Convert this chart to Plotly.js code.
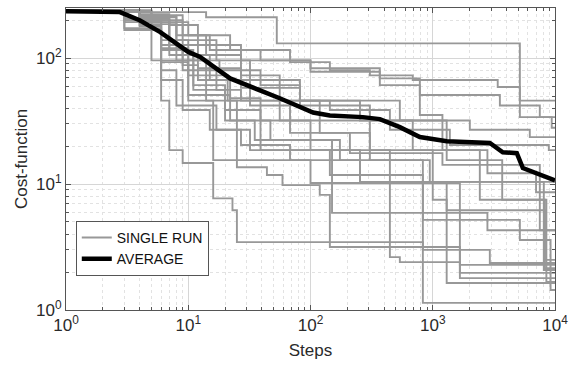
<!DOCTYPE html>
<html>
<head>
<meta charset="utf-8">
<script src="https://cdn.plot.ly/plotly-3.0.1.min.js"></script>
<style>html,body{margin:0;padding:0;background:#fff;}#chart{width:574px;height:367px;}</style>
</head>
<body>
<div id="chart"></div>
<script>
// Single runs (step positions and cost-function values)
const run01Steps = [1,5,14,53,5160,9400,10000];
const run01Cost  = [240,232,211,131,34,28,28];
const run02Steps = [1,4,6,10,22,68,144,306,686,3400,5160,10000];
const run02Cost  = [236,219,193,152,116,93,80,73,67,59,46,46];
const run03Steps = [1,4,7,12,27,100,369,784,3540,7510,10000];
const run03Cost  = [240,223,183,127,96,78,69,51,42,34,34];
const run04Steps = [1,3,6,10,18,39,82,538,2010,6220,10000];
const run04Cost  = [232,200,139,96,80,61,46,32,27,23.6,23.6];
const run05Steps = [1,3,6,9,17,27,144,446,1380,8900,10000];
const run05Cost  = [236,193,116,80,56,46,38.7,27,20.4,18.6,18.6];
const run06Steps = [1,3,6,9,12,22,39,100,254,8100,10000];
const run06Cost  = [240,207,127,88,67,48,32,18.6,10.4,2.08,2.08];
const run07Steps = [1,4,8,14,27,56,119,306,946,10000];
const run07Cost  = [232,215,152,106,73,46,25.5,15.5,10.4,10.4];
const run08Steps = [1,5,9,15,32,68,210,1200,2800,7000,10000];
const run08Cost  = [236,200,106,67,42,25.5,17.6,14.2,12.2,8.6,8.6];
const run09Steps = [1,4,6,10,22,47,174,830,2800,10000];
const run09Cost  = [240,183,96,51,32,22.4,15.5,5.2,4.3,4.3];
const run10Steps = [1,3,6,8,17,32,144,830,2930,10000];
const run10Cost  = [232,173,80,42,27,18.6,11.8,3.0,2.36,2.36];
const run11Steps = [1,4,7,11,20,39,446,538,1667,10000];
const run11Cost  = [236,207,116,56,38.7,18.6,2.63,2.4,2.28,2.28];
const run12Steps = [1,4,6,10,21,56,306,1000,1300,8260,10000];
const run12Cost  = [240,193,120,73,46,32,18.6,10.2,6.2,2.15,2.15];
const run13Steps = [1,5,8,14,25,44,59,119,144,1667,10000];
const run13Cost  = [232,186,96,46,13.6,11.8,9.8,8.2,3.16,1.97,1.97];
const run14Steps = [1,3,6,9,15,27,68,254,1667,10000];
const run14Cost  = [236,167,67,38.7,27,20.4,15.5,10.2,1.79,1.79];
const run15Steps = [1,4,7,12,27,82,306,1300,3700,8500,10000];
const run15Cost  = [240,200,127,83,58,42,32,15.5,7.5,1.67,1.67];
const run16Steps = [1,4,6,10,16,100,1000,1300,10000];
const run16Cost  = [232,180,93,46,15.5,10.2,7.5,1.64,1.64];
const run17Steps = [1,3,5,6,7,9,16,23,25,830,10000];
const run17Cost  = [232,200,96,46,18.6,14.7,7.7,6.2,3.46,1.14,1.14];
const run18Steps = [1,4,7,11,20,35,150,2800,5160,9200,10000];
const run18Cost  = [236,200,106,61,32,22.4,5.9,5.2,3.6,1.44,1.44];
const run19Steps = [1,4,8,17,32,82,254,686,2427,8260,10000];
const run19Cost  = [240,211,139,96,67,46,32,18.6,7.5,2.5,2.5];
const run20Steps = [1,5,9,15,39,100,369,784,1200,2800,7510,10000];
const run20Cost  = [236,219,152,116,96,83,61,35.3,18.6,14.2,4.3,4.3];

// Average curve
const avgSteps = [1,2.76,4,5.9,10,12.5,22,32,56,105,144,268,369,538,784,1303,2930,3740,4870,5460,7100,9600,10000];
const avgCost  = [236,232,200,161,112,102,69,60,48,37,35,34,32.8,28.3,23.6,21.9,21.2,17.9,17.6,13.4,12.2,10.8,10.7];

// Axis ticks
const xTickVals = [1,10,100,1000,10000];
const xTickText = ['10<sup>0</sup>','10<sup>1</sup>','10<sup>2</sup>','10<sup>3</sup>','10<sup>4</sup>'];
const yTickVals = [1,10,100];
const yTickText = ['10<sup>0</sup>','10<sup>1</sup>','10<sup>2</sup>'];

const runs = [
  [run01Steps,run01Cost],[run02Steps,run02Cost],[run03Steps,run03Cost],[run04Steps,run04Cost],
  [run05Steps,run05Cost],[run06Steps,run06Cost],[run07Steps,run07Cost],[run08Steps,run08Cost],
  [run09Steps,run09Cost],[run10Steps,run10Cost],[run11Steps,run11Cost],[run12Steps,run12Cost],
  [run13Steps,run13Cost],[run14Steps,run14Cost],[run15Steps,run15Cost],[run16Steps,run16Cost],
  [run17Steps,run17Cost],[run18Steps,run18Cost],[run19Steps,run19Cost],[run20Steps,run20Cost]
];

const gray = 'rgb(152,152,152)';
const traces = runs.map((r, i) => ({
  x: r[0], y: r[1], type: 'scatter', mode: 'lines',
  line: {color: gray, width: 1.9, shape: 'hv'},
  name: 'SINGLE RUN', legendgroup: 'single', showlegend: i === 0,
  hoverinfo: 'skip'
}));
traces.push({
  x: avgSteps, y: avgCost, type: 'scatter', mode: 'lines',
  line: {color: '#000', width: 4.5},
  name: 'AVERAGE', showlegend: true
});

function minorVals(lo, hi, maxV) {
  const v = [];
  for (let d = lo; d < hi; d++) {
    for (let m = 2; m <= 9; m++) {
      const t = m * Math.pow(10, d);
      if (t <= maxV) v.push(t);
    }
  }
  return v;
}

const axisCommon = {
  type: 'log', showline: true, mirror: 'allticks', linecolor: '#555', linewidth: 1,
  ticks: 'inside', ticklen: 5, tickcolor: '#555', tickwidth: 1,
  showgrid: true, gridcolor: '#d6d6d6', gridwidth: 1,
  tickfont: {family: 'Liberation Sans, Arial, sans-serif', size: 17, color: '#2a2a2a'},
  zeroline: false, tickmode: 'array'
};

const layout = {
  width: 574, height: 367,
  margin: {l: 66, r: 19, t: 8, b: 57},
  paper_bgcolor: '#fff', plot_bgcolor: '#fff',
  font: {family: 'Liberation Sans, Arial, sans-serif', color: '#2a2a2a'},
  xaxis: Object.assign({}, axisCommon, {
    range: [0, 4], tickvals: xTickVals, ticktext: xTickText,
    minor: {tickmode: 'array', tickvals: minorVals(0, 4, 10000), ticks: 'inside', ticklen: 3,
            tickcolor: '#555', showgrid: true, gridcolor: '#e2e2e2', griddash: 'dot', gridwidth: 1},
    title: {text: 'Steps', font: {size: 17, color: '#2a2a2a'}, standoff: 9}
  }),
  yaxis: Object.assign({}, axisCommon, {
    range: [0, Math.log10(250)], tickvals: yTickVals, ticktext: yTickText,
    minor: {tickmode: 'array', tickvals: minorVals(0, 3, 250), ticks: 'inside', ticklen: 3,
            tickcolor: '#555', showgrid: true, gridcolor: '#e2e2e2', griddash: 'dot', gridwidth: 1},
    title: {text: 'Cost-function', font: {size: 17, color: '#2a2a2a'}, standoff: 4}
  }),
  showlegend: true,
  legend: {
    x: 0.02, y: 0.295, xanchor: 'left', yanchor: 'top',
    bgcolor: '#fff', bordercolor: '#555', borderwidth: 1,
    font: {size: 14, color: '#111'}, itemwidth: 30, tracegroupgap: 0
  }
};

Plotly.newPlot('chart', traces, layout, {staticPlot: true, displayModeBar: false});
</script>
</body>
</html>
